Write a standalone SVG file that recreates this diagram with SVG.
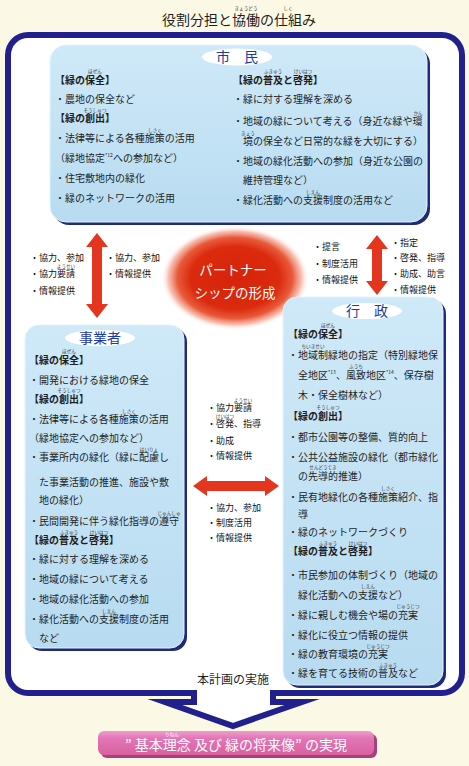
<svg xmlns="http://www.w3.org/2000/svg" width="469" height="766" viewBox="0 0 469 766">
<style>
text{font-family:"Noto Sans CJK JP","Noto Sans CJK SC",sans-serif;fill:#1e1e1e;}
.t{font-size:10px;}
.h{font-size:10px;font-weight:bold;}
.s{font-size:9px;fill:#111;}
.r{font-size:4.6px;fill:#333;text-anchor:middle;}
.sup{font-size:5px;}
.hd{font-size:14px;fill:#1c3aa6;text-anchor:middle;}
.box{fill:url(#bg);stroke:#e4f3fc;stroke-width:1;}
.sh{fill:#1f2a78;}
.ov{fill:#fff;}
.ar{fill:#e4361f;}
.w{fill:#fff;text-anchor:middle;}
</style>
<defs>
<linearGradient id="bg" x1="0" y1="0" x2="0" y2="1"><stop offset="0" stop-color="#cfe9f8"/><stop offset="1" stop-color="#b8dbf1"/></linearGradient>
<radialGradient id="glow" cx="0.5" cy="0.5" r="0.5"><stop offset="0" stop-color="#d6240a"/><stop offset="0.6" stop-color="#db2a0e"/><stop offset="0.78" stop-color="#e85a3a"/><stop offset="0.9" stop-color="#f6b0a0" stop-opacity="0.8"/><stop offset="1" stop-color="#fff" stop-opacity="0"/></radialGradient>
<linearGradient id="pk" x1="0" y1="0" x2="0" y2="1"><stop offset="0" stop-color="#f09ccc"/><stop offset="0.3" stop-color="#e276b7"/><stop offset="1" stop-color="#d9609f"/></linearGradient>
</defs>
<rect width="469" height="766" fill="#fbf9e6"/>

<g id="title">
<text x="239" y="25" font-size="14" text-anchor="middle" fill="#111">役割分担と協働の仕組み</text>
<text class="r" x="246" y="10">きょうどう</text>
<text class="r" x="288" y="10">しく</text>
</g>

<g id="frame">
<path d="M194 693 L28 693 A20 20 0 0 1 8 673 L8 55 A20 20 0 0 1 28 35 L442 35 A20 20 0 0 1 462 55 L462 673 A20 20 0 0 1 442 693 L273 693 L273 702 L302 702 L233 726 L165 702 L194 702 Z" fill="#fff" stroke="#22208c" stroke-width="6" stroke-miterlimit="8"/>
<text x="233" y="684" font-size="12" text-anchor="middle" fill="#111">本計画の実施</text>
</g>

<g id="partnership">
<ellipse cx="235" cy="278" rx="74" ry="52" fill="url(#glow)"/>
<text class="w" x="233" y="275" font-size="13.5">パートナー</text>
<text class="w" x="235" y="298" font-size="13.5">シップの形成</text>
</g>

<g id="citizen">
<rect class="sh" x="53" y="48" width="377" height="177" rx="16"/>
<rect class="box" x="50" y="45" width="377" height="177" rx="16"/>
<ellipse class="ov" cx="237" cy="57" rx="35" ry="8.5"/>
<text class="hd" x="237" y="62">市　民</text>
<text class="h" x="55" y="84">【緑の保全】</text>
<text class="r" x="95" y="73">ほぜん</text>
<text class="t" x="55" y="103">・農地の保全など</text>
<text class="h" x="55" y="122">【緑の創出】</text>
<text class="r" x="95" y="112">そうしゅつ</text>
<text class="t" x="55" y="142">・法律等による各種施策の活用</text>
<text class="r" x="155" y="132">しさく</text>
<text class="t" x="55" y="162">（緑地協定<tspan class="sup" dy="-5">*12</tspan><tspan dy="5">への参加など）</tspan></text>
<text class="t" x="55" y="182">・住宅敷地内の緑化</text>
<text class="t" x="55" y="202">・緑のネットワークの活用</text>
<text class="h" x="233" y="84">【緑の普及と啓発】</text>
<text class="r" x="273" y="73">ふきゅう</text>
<text class="r" x="303" y="73">けいはつ</text>
<text class="t" x="233" y="103">・緑に対する理解を深める</text>
<text class="t" x="233" y="125">・地域の緑について考える（身近な緑や環</text>
<text class="r" x="418" y="115">かん</text>
<text class="t" x="243" y="145">境の保全など日常的な緑を大切にする）</text>
<text class="r" x="248" y="135">きょう</text>
<text class="t" x="233" y="165">・地域の緑化活動への参加（身近な公園の</text>
<text class="t" x="243" y="184">維持管理など）</text>
<text class="t" x="233" y="204">・緑化活動への支援制度の活用など</text>
<text class="r" x="313" y="194">しえん</text>
</g>

<g id="business">
<rect class="sh" x="28" y="328" width="159" height="323" rx="14"/>
<rect class="box" x="25" y="325" width="159" height="323" rx="14"/>
<ellipse class="ov" cx="100" cy="338" rx="35" ry="8"/>
<text class="hd" x="100" y="343" font-size="15">事業者</text>
<text class="h" x="29" y="364">【緑の保全】</text>
<text class="r" x="69" y="353">ほぜん</text>
<text class="t" x="29" y="384">・開発における緑地の保全</text>
<text class="h" x="29" y="403">【緑の創出】</text>
<text class="r" x="69" y="392">そうしゅつ</text>
<text class="t" x="29" y="423">・法律等による各種施策の活用</text>
<text class="r" x="129" y="413">しさく</text>
<text class="t" x="29" y="442">（緑地協定への参加など）</text>
<text class="t" x="29" y="461">・事業所内の緑化（緑に配慮し</text>
<text class="r" x="149" y="451">はいりょ</text>
<text class="t" x="39" y="486">た事業活動の推進、施設や敷</text>
<text class="t" x="39" y="504">地の緑化）</text>
<text class="t" x="29" y="525">・民間開発に伴う緑化指導の遵守</text>
<text class="r" x="169" y="515">じゅんしゅ</text>
<text class="h" x="29" y="544">【緑の普及と啓発】</text>
<text class="r" x="69" y="534">ふきゅう</text>
<text class="r" x="99" y="534">けいはつ</text>
<text class="t" x="29" y="563">・緑に対する理解を深める</text>
<text class="t" x="29" y="583">・地域の緑について考える</text>
<text class="t" x="29" y="603">・地域の緑化活動への参加</text>
<text class="t" x="29" y="623">・緑化活動への支援制度の活用</text>
<text class="r" x="109" y="613">しえん</text>
<text class="t" x="39" y="642">など</text>
</g>

<g id="government">
<rect class="sh" x="286" y="300" width="160" height="388" rx="14"/>
<rect class="box" x="283" y="297" width="160" height="388" rx="14"/>
<ellipse class="ov" cx="367" cy="311" rx="35" ry="8"/>
<text class="hd" x="367" y="316">行　政</text>
<text class="h" x="288" y="338">【緑の保全】</text>
<text class="r" x="328" y="327">ほぜん</text>
<text class="t" x="288" y="359">・地域制緑地の指定（特別緑地保</text>
<text class="r" x="313" y="348">ちいきせい</text>
<text class="t" x="298" y="379">全地区<tspan class="sup" dy="-5">*13</tspan><tspan dy="5">、風致地区</tspan><tspan class="sup" dy="-5">*14</tspan><tspan dy="5">、保存樹</tspan></text>
<text class="r" x="356" y="368">ふうち</text>
<text class="t" x="298" y="399">木・保全樹林など）</text>
<text class="h" x="288" y="420">【緑の創出】</text>
<text class="r" x="328" y="409">そうしゅつ</text>
<text class="t" x="288" y="441">・都市公園等の整備、質的向上</text>
<text class="t" x="288" y="461">・公共公益施設の緑化（都市緑化</text>
<text class="t" x="298" y="480">の先導的推進）</text>
<text class="r" x="323" y="469">せんどうてき</text>
<text class="t" x="288" y="501">・民有地緑化の各種施策紹介、指</text>
<text class="r" x="388" y="490">しさく</text>
<text class="t" x="298" y="518">導</text>
<text class="t" x="288" y="536">・緑のネットワークづくり</text>
<text class="h" x="288" y="555">【緑の普及と啓発】</text>
<text class="r" x="328" y="545">ふきゅう</text>
<text class="r" x="358" y="545">けいはつ</text>
<text class="t" x="288" y="579">・市民参加の体制づくり（地域の</text>
<text class="t" x="298" y="599">緑化活動への支援など）</text>
<text class="r" x="368" y="588">しえん</text>
<text class="t" x="288" y="619">・緑に親しむ機会や場の充実</text>
<text class="r" x="408" y="608">じゅうじつ</text>
<text class="t" x="288" y="639">・緑化に役立つ情報の提供</text>
<text class="t" x="288" y="658">・緑の教育環境の充実</text>
<text class="r" x="378" y="648">じゅうじつ</text>
<text class="t" x="288" y="677">・緑を育てる技術の普及など</text>
<text class="r" x="388" y="667">ふきゅう</text>
</g>

<g id="connectors">
<polygon class="ar" points="97,233 108,247 102,247 102,304 108,304 97,318 86,304 92,304 92,247 86,247"/>
<polygon class="ar" points="377,235 388,249 382,249 382,281 388,281 377,295 366,281 372,281 372,249 366,249"/>
<polygon class="ar" points="193,486 207,476 207,481 265,481 265,476 279,486 265,496 265,491 207,491 207,496"/>
<text class="s" x="30" y="261">・協力、参加</text>
<text class="s" x="30" y="277">・協力要請</text>
<text class="r" x="66" y="268">ようせい</text>
<text class="s" x="30" y="294">・情報提供</text>
<text class="s" x="106" y="261">・協力、参加</text>
<text class="s" x="106" y="277">・情報提供</text>
<text class="s" x="313" y="250">・提言</text>
<text class="s" x="313" y="267">・制度活用</text>
<text class="s" x="313" y="283">・情報提供</text>
<text class="s" x="391" y="246">・指定</text>
<text class="s" x="391" y="261">・啓発、指導</text>
<text class="s" x="391" y="277">・助成、助言</text>
<text class="s" x="391" y="293">・情報提供</text>
<text class="s" x="207" y="411">・協力要請</text>
<text class="r" x="243" y="402">ようせい</text>
<text class="s" x="207" y="427">・啓発、指導</text>
<text class="r" x="225" y="418">けいはつ</text>
<text class="s" x="207" y="444">・助成</text>
<text class="s" x="207" y="459">・情報提供</text>
<text class="s" x="207" y="511">・協力、参加</text>
<text class="s" x="207" y="526">・制度活用</text>
<text class="s" x="207" y="541">・情報提供</text>
</g>

<g id="goal">
<rect x="101" y="734" width="276" height="24" rx="6" fill="#a8407e"/>
<rect x="98" y="731" width="276" height="24" rx="6" fill="url(#pk)"/>
<text class="w" x="236" y="750" font-size="14">” 基本理念 及び 緑の将来像” の実現</text>
<text class="r" x="172" y="736" style="fill:#fff">りねん</text>
</g>
</svg>
